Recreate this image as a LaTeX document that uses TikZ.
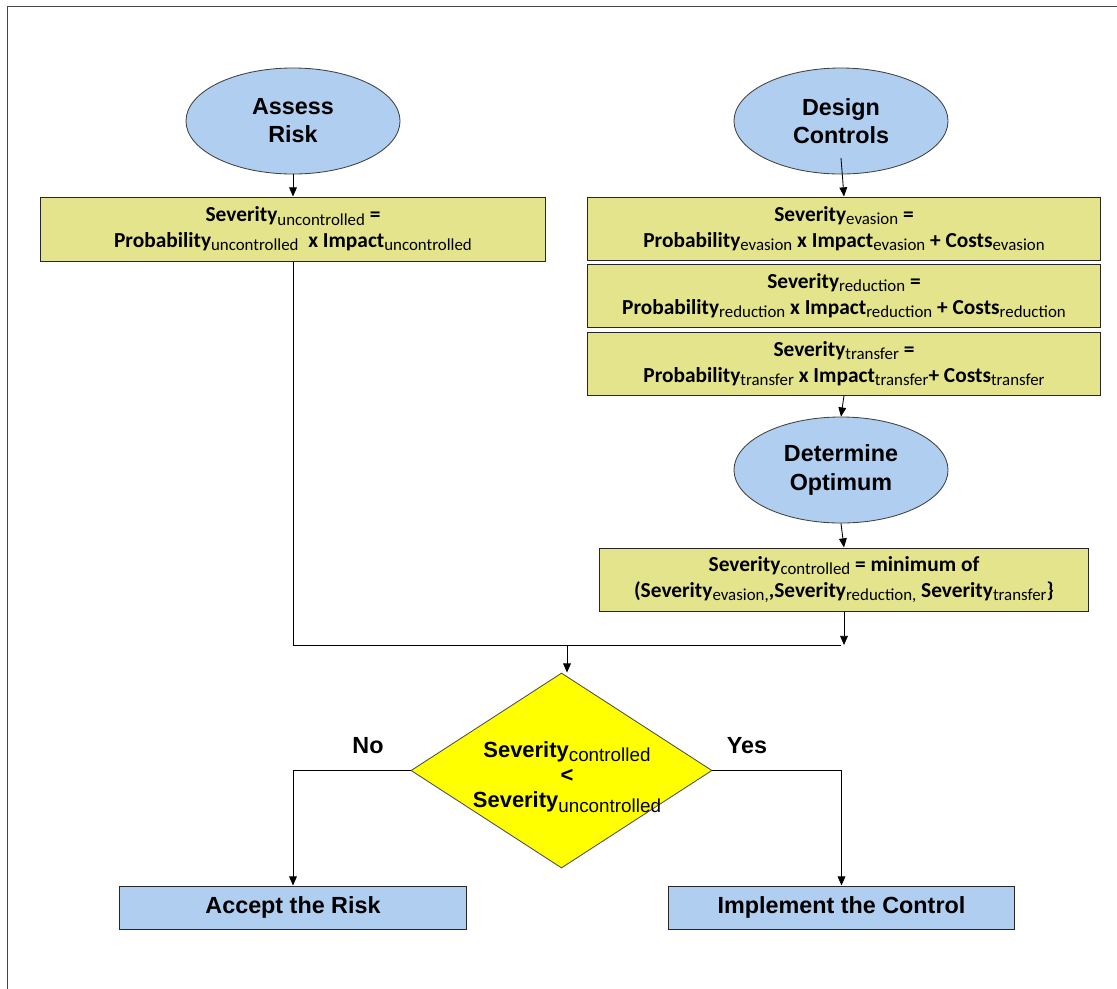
\documentclass[tikz,border=0pt]{standalone}
\usepackage{fontspec}
\setmainfont{Liberation Sans}
\newfontfamily\calfont{Carlito}
\usetikzlibrary{shapes.geometric,arrows.meta,calc}
\definecolor{ellblue}{RGB}{176,206,240}
\definecolor{khaki}{RGB}{228,228,140}
\definecolor{dyellow}{RGB}{255,255,0}
\definecolor{framegray}{RGB}{70,70,70}
\newcommand{\bigfont}{\fontsize{16.6}{20}\selectfont\bfseries}
\newcommand{\boxfont}{\calfont\fontsize{15.2}{18.2}\selectfont\bfseries}
\newcommand{\ssb}[1]{\raisebox{-2.4pt}{\calfont\mdseries\fontsize{12}{12}\selectfont #1}}
\newcommand{\dsb}[1]{\raisebox{-3pt}{\mdseries\fontsize{13.4}{14}\selectfont #1}}
\tikzset{
  ell/.style={ellipse, draw=black!75, fill=ellblue, line width=0.6pt,
    minimum width=5.35cm, minimum height=2.65cm, inner sep=0pt, align=center, font=\bigfont},
  formbox/.style={rectangle, draw=black!85, fill=khaki, line width=0.7pt,
    minimum width=12.8cm, minimum height=1.575cm, inner sep=0pt, align=center, font=\boxfont},
  endbox/.style={rectangle, draw=black!85, fill=ellblue, line width=0.7pt,
    minimum width=8.66cm, minimum height=1.075cm, inner sep=0pt, font=\bigfont},
  decision/.style={diamond, draw=black!70, fill=dyellow, line width=0.6pt,
    minimum width=7.525cm, minimum height=4.875cm, inner sep=0pt},
  arr/.style={-{Triangle[length=6.5pt,width=5.5pt]}, line width=0.6pt, black},
  conn/.style={line width=0.6pt, black},
  lbl/.style={font=\bigfont, inner sep=0pt},
}
\begin{document}
\begin{tikzpicture}[x=0.025cm, y=-0.025cm]
\useasboundingbox (0,0) rectangle (1117,988);
% frame (only top and left visible)
\draw[framegray, line width=0.7pt] (7,1000) -- (7,6) -- (1130,6);

% nodes
\node[ell] (ar) at (293,121) {Assess\\Risk};
\node[ell] (dc) at (841,121) {Design\\Controls};
\node[formbox, minimum width=12.6cm, minimum height=1.6cm] (b1) at (293,229)
  {Severity\ssb{uncontrolled} =\\Probability\ssb{uncontrolled}\ \ x Impact\ssb{uncontrolled}};
\node[formbox] (ev) at (844,228.5)
  {Severity\ssb{evasion} =\\Probability\ssb{evasion} x Impact\ssb{evasion} + Costs\ssb{evasion}};
\node[formbox] (re) at (844,295.5)
  {Severity\ssb{reduction} =\\Probability\ssb{reduction} x Impact\ssb{reduction} + Costs\ssb{reduction}};
\node[formbox] (tr) at (844,363.5)
  {Severity\ssb{transfer} =\\Probability\ssb{transfer} x Impact\ssb{transfer}+ Costs\ssb{transfer}};
\node[ell] (do) at (841,470) {Determine\\Optimum};
\node[formbox, minimum width=12.2cm] (cb) at (844,579.5)
  {Severity\ssb{controlled} = minimum of\\(Severity\ssb{evasion,},Severity\ssb{reduction,} Severity\ssb{transfer}\}};
\node[decision] (dm) at (561.5,770.5) {};
\node[align=center, inner sep=0pt, font=\fontsize{15.6}{18.5}\selectfont\bfseries] (dt) at (567,777)
  {Severity\dsb{controlled}\\[-0.5pt]<\\[-0.5pt]Severity\dsb{uncontrolled}};
\node[endbox] (acc) at (293,907.5) {\raisebox{-2pt}{Accept the Risk}};
\node[endbox] (imp) at (841.5,907.5) {\raisebox{-2pt}{Implement the Control}};
\node[lbl] (no) at (368,746) {No};
\node[lbl] (yes) at (747,746) {Yes};

% junction coordinates
\coordinate (j) at (844,645);
\coordinate (jm) at (567,645);

% connectors
\draw[arr] (ar.south) -- (b1.north);
\draw[arr] ($(dc.center)+(0,37)$) -- (ev.north);
\draw[arr] (tr.south) -- (do.north);
\draw[arr] (do.south) -- (cb.north);
\draw[arr] (cb.south) -- (j);
\draw[conn] (b1.south) |- ([xshift=-2pt]j);
\draw[arr] (jm) -- (jm |- dm.north);
\draw[arr] (dm.west) -| (acc.north);
\draw[arr] (dm.east) -| (imp.north);
\end{tikzpicture}
\end{document}
